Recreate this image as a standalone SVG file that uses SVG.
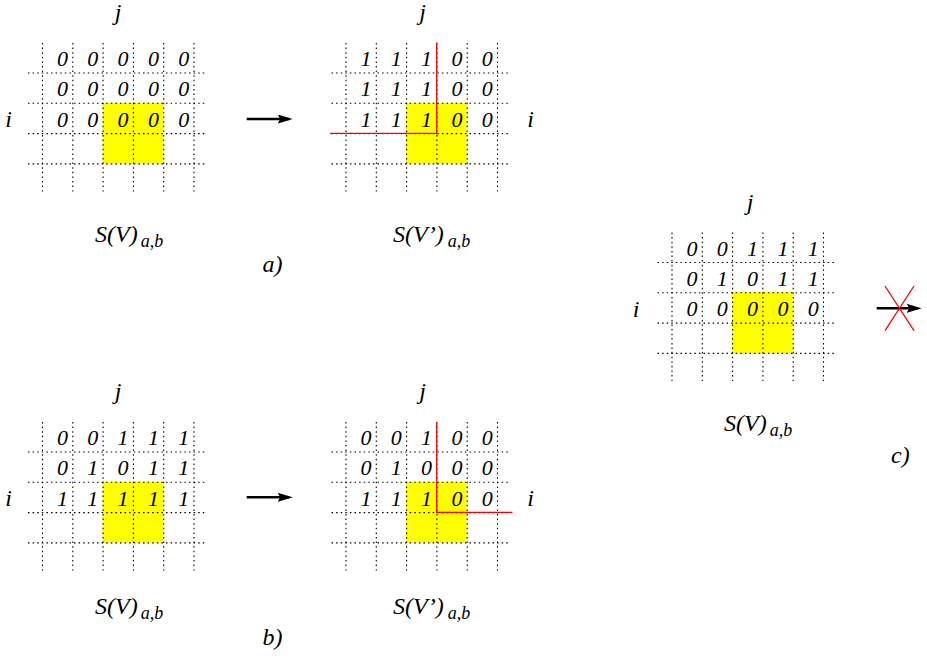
<svg xmlns="http://www.w3.org/2000/svg" xmlns:xlink="http://www.w3.org/1999/xlink" width="927" height="658" viewBox="0 0 927 658">
<style>
  .dot { stroke: #000; stroke-width: 1.1; stroke-dasharray: 1.5 3.1; fill: none; }
  .hl { fill: #ffff00; stroke: none; }
  .num { font-size: 22px; fill: #000; text-anchor: middle; }
  .ax { font-size: 24px; fill: #000; text-anchor: middle; }
  .lbl { font-size: 24px; fill: #000; }
  .sub { font-size: 18px; }
  .red { stroke: #ff0000; stroke-width: 1.3; fill: none; }
  .arrow { stroke: #000; stroke-width: 2.6; fill: none; marker-end: url(#head); }
</style>
<defs>
  <marker id="head" markerUnits="userSpaceOnUse" markerWidth="16" markerHeight="10" refX="11.3" refY="4.5" orient="auto">
    <path d="M0,0 L15,4.5 L0,9 L2.5,4.5 z" fill="#000"/>
  </marker>
  <g id="gridBase">
    <rect class="hl" x="60.6" y="30.3" width="60.6" height="60.6"/>
    <path class="dot" d="M0.5,-29.5 V119 M30.8,-29.5 V119 M61.1,-29.5 V119 M91.4,-29.5 V119 M121.7,-29.5 V119 M152,-29.5 V119"/>
    <path class="dot" d="M-14,0.5 H164 M-14,30.8 H164 M-14,61.1 H164 M-14,91.4 H164"/>
  </g>
</defs>
<rect width="927" height="658" fill="#fff"/>

<g font-family="Liberation Serif, serif" font-style="italic">

<g id="grid-a-left" transform="translate(42,72.5)">
  <use xlink:href="#gridBase"/>
  <g class="num">
    <text x="20.5" y="-6.5">0</text><text x="50.8" y="-6.5">0</text><text x="81.1" y="-6.5">0</text><text x="111.4" y="-6.5">0</text><text x="141.7" y="-6.5">0</text>
    <text x="20.5" y="23.8">0</text><text x="50.8" y="23.8">0</text><text x="81.1" y="23.8">0</text><text x="111.4" y="23.8">0</text><text x="141.7" y="23.8">0</text>
    <text x="20.5" y="54.1">0</text><text x="50.8" y="54.1">0</text><text x="81.1" y="54.1">0</text><text x="111.4" y="54.1">0</text><text x="141.7" y="54.1">0</text>
  </g>
  <text class="ax" x="76" y="-53">j</text>
  <text class="ax" x="-33.5" y="54.5">i</text>
  <text class="lbl" x="53" y="169.2">S(V)<tspan class="sub" dx="3" dy="5.3">a,b</tspan></text>
</g>

<g id="grid-a-right" transform="translate(345.5,72.5)">
  <use xlink:href="#gridBase"/>
  <g class="num">
    <text x="20.5" y="-6.5">1</text><text x="50.8" y="-6.5">1</text><text x="81.1" y="-6.5">1</text><text x="111.4" y="-6.5">0</text><text x="141.7" y="-6.5">0</text>
    <text x="20.5" y="23.8">1</text><text x="50.8" y="23.8">1</text><text x="81.1" y="23.8">1</text><text x="111.4" y="23.8">0</text><text x="141.7" y="23.8">0</text>
    <text x="20.5" y="54.1">1</text><text x="50.8" y="54.1">1</text><text x="81.1" y="54.1">1</text><text x="111.4" y="54.1">0</text><text x="141.7" y="54.1">0</text>
  </g>
  <path class="red" d="M91.2,-30 V60.9 H-15.5"/>
  <text class="ax" x="77" y="-53">j</text>
  <text class="ax" x="185" y="54.5">i</text>
  <text class="lbl" x="47.5" y="169.2">S(V’)<tspan class="sub" dx="4" dy="5.3">a,b</tspan></text>
</g>

<g id="label-a"><text class="lbl" x="262.5" y="271.7">a)</text></g>

<g id="grid-b-left" transform="translate(42,451.5)">
  <use xlink:href="#gridBase"/>
  <g class="num">
    <text x="20.5" y="-6.5">0</text><text x="50.8" y="-6.5">0</text><text x="81.1" y="-6.5">1</text><text x="111.4" y="-6.5">1</text><text x="141.7" y="-6.5">1</text>
    <text x="20.5" y="23.8">0</text><text x="50.8" y="23.8">1</text><text x="81.1" y="23.8">0</text><text x="111.4" y="23.8">1</text><text x="141.7" y="23.8">1</text>
    <text x="20.5" y="54.1">1</text><text x="50.8" y="54.1">1</text><text x="81.1" y="54.1">1</text><text x="111.4" y="54.1">1</text><text x="141.7" y="54.1">1</text>
  </g>
  <text class="ax" x="76" y="-53">j</text>
  <text class="ax" x="-33.5" y="54.5">i</text>
  <text class="lbl" x="53" y="162.5">S(V)<tspan class="sub" dx="3" dy="5.3">a,b</tspan></text>
</g>

<g id="grid-b-right" transform="translate(345.5,451.5)">
  <use xlink:href="#gridBase"/>
  <g class="num">
    <text x="20.5" y="-6.5">0</text><text x="50.8" y="-6.5">0</text><text x="81.1" y="-6.5">1</text><text x="111.4" y="-6.5">0</text><text x="141.7" y="-6.5">0</text>
    <text x="20.5" y="23.8">0</text><text x="50.8" y="23.8">1</text><text x="81.1" y="23.8">0</text><text x="111.4" y="23.8">0</text><text x="141.7" y="23.8">0</text>
    <text x="20.5" y="54.1">1</text><text x="50.8" y="54.1">1</text><text x="81.1" y="54.1">1</text><text x="111.4" y="54.1">0</text><text x="141.7" y="54.1">0</text>
  </g>
  <path class="red" d="M91.2,-29 V60.9 H167"/>
  <text class="ax" x="77" y="-53">j</text>
  <text class="ax" x="185" y="54.5">i</text>
  <text class="lbl" x="47.5" y="162.5">S(V’)<tspan class="sub" dx="4" dy="5.3">a,b</tspan></text>
</g>

<g id="label-b"><text class="lbl" x="262.5" y="645">b)</text></g>

<g id="grid-c" transform="translate(671.5,262)">
  <use xlink:href="#gridBase"/>
  <g class="num">
    <text x="20.5" y="-6.5">0</text><text x="50.8" y="-6.5">0</text><text x="81.1" y="-6.5">1</text><text x="111.4" y="-6.5">1</text><text x="141.7" y="-6.5">1</text>
    <text x="20.5" y="23.8">0</text><text x="50.8" y="23.8">1</text><text x="81.1" y="23.8">0</text><text x="111.4" y="23.8">1</text><text x="141.7" y="23.8">1</text>
    <text x="20.5" y="54.1">0</text><text x="50.8" y="54.1">0</text><text x="81.1" y="54.1">0</text><text x="111.4" y="54.1">0</text><text x="141.7" y="54.1">0</text>
  </g>
  <text class="ax" x="78.5" y="-52.5">j</text>
  <text class="ax" x="-35.5" y="54.5">i</text>
  <text class="lbl" x="52.5" y="168.7">S(V)<tspan class="sub" dx="3" dy="5.3">a,b</tspan></text>
</g>

<g id="label-c"><text class="lbl" x="891" y="463">c)</text></g>

</g>

<g id="connectors">
  <line class="arrow" x1="246.7" y1="119" x2="289" y2="119"/>
  <line class="arrow" x1="246.7" y1="497.3" x2="289" y2="497.3"/>
  <line class="arrow" x1="876.7" y1="308.3" x2="918" y2="308.3"/>
  <path class="red" d="M885,286 L914,330.7 M914,286 L885,330.7"/>
</g>
</svg>
